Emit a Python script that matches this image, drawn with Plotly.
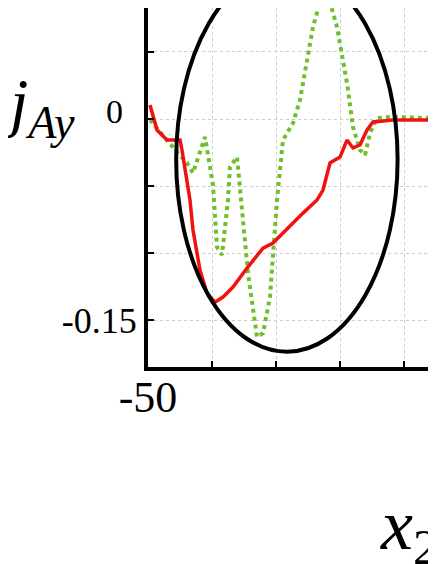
import plotly.graph_objects as go

# red solid curve
x_red = [-49.69, -48.59, -47.03, -45.0, -44.69, -43.44, -42.97, -41.88, -40.78, -39.53,
         -38.28, -36.72, -34.53, -32.03, -30.47, -28.91, -27.34, -25.78, -23.59, -22.66,
         -21.56, -20.0, -18.91, -17.97, -16.88, -15.78, -14.84, -11.72, -5.0]
y_red = [0.0104, -0.0082, -0.0157, -0.0157, -0.0231, -0.0604, -0.0828, -0.1127, -0.1299, -0.1366,
         -0.1328, -0.1254, -0.1112, -0.0963, -0.0925, -0.0851, -0.0769, -0.0702, -0.0604, -0.0530,
         -0.0328, -0.0284, -0.0157, -0.0216, -0.0194, -0.0082, -0.0022, -0.0007, -0.0007]

# green dotted curve
x_green = [-49.69, -48.13, -46.56, -45.47, -43.91, -42.97, -41.09, -39.84, -39.22, -38.44,
           -37.5, -37.19, -36.09, -35.63, -34.38, -32.97, -32.03, -30.94, -29.84, -28.91,
           -27.34, -26.25, -25.16, -24.22, -22.34, -20.47, -18.91, -17.97, -16.88, -16.09,
           -15.31, -14.22, -12.19, -5.0]
y_green = [-0.0007, -0.0097, -0.0194, -0.0246, -0.0328, -0.0403, -0.0134, -0.0493, -0.0955, -0.1015,
           -0.0604, -0.0358, -0.0284, -0.0507, -0.1149, -0.1627, -0.1597, -0.1328, -0.0604, -0.0157,
           -0.0030, 0.0142, 0.0440, 0.0687, 0.1000, 0.0687, 0.0269, -0.0060, -0.0231, -0.0269,
           -0.0104, 0.0007, 0.0015, 0.0007]

# ticks
x_ticks = [-50, -40, -30, -20, -10]
x_labels = ['-50', '', '', '', '']
y_ticks = [0.05, 0, -0.05, -0.1, -0.15]
y_labels = ['', '', '', '', '-0.15']

# ellipse box (data units)
ell_x = [-45.6, -11.0]
ell_y = [-0.1736, 0.113]

fig = go.Figure()

fig.add_trace(go.Scatter(x=x_green, y=y_green, mode='lines',
                         line=dict(color='#6fbf2a', width=4, dash='dot')))
fig.add_trace(go.Scatter(x=x_red, y=y_red, mode='lines',
                         line=dict(color='#f21010', width=3.5)))

fig.add_shape(type='circle', xref='x', yref='y',
              x0=ell_x[0], x1=ell_x[1], y0=ell_y[0], y1=ell_y[1],
              line=dict(color='black', width=4))

serif = 'Liberation Serif'

# page body has an 8px margin, so the figure is a bit smaller and shifted
fig.update_layout(
    width=428, height=556,
    margin=dict(l=140, r=0, t=0, b=197),
    paper_bgcolor='white', plot_bgcolor='white',
    showlegend=False,
    xaxis=dict(range=[-50, -5], tickvals=x_ticks, ticktext=x_labels,
               ticks='inside', ticklen=6, tickwidth=1.5, tickcolor='black',
               showline=True, linecolor='black', linewidth=4,
               showgrid=True, gridcolor='#cccccc', griddash='dot', gridwidth=1,
               zeroline=False, ticklabelstandoff=-12,
               tickfont=dict(family=serif, size=44, color='black')),
    yaxis=dict(range=[-0.185, 0.0828], tickvals=y_ticks, ticktext=y_labels,
               ticks='inside', ticklen=6, tickwidth=1.5, tickcolor='black',
               showline=True, linecolor='black', linewidth=4,
               showgrid=True, gridcolor='#cccccc', griddash='dot', gridwidth=1,
               zeroline=False, tickfont=dict(family=serif, size=36, color='black')),
)

# y label and the "0" tick label
fig.add_annotation(x=-0.515, y=0.725, xref='paper', yref='paper', xanchor='left', yanchor='middle',
                   text='<i>j</i><sub><i>Ay</i></sub>', showarrow=False,
                   font=dict(family=serif, size=66, color='black'))
fig.add_annotation(x=-0.08, y=0.0, xref='paper', yref='y', xanchor='right', yanchor='middle',
                   text='0', showarrow=False, yshift=8,
                   font=dict(family=serif, size=34, color='black'))
# x label
fig.add_annotation(x=(378 - 148) / 288, y=(367 - 530) / 359, xref='paper', yref='paper',
                   xanchor='left', yanchor='middle',
                   text='<i>x</i><sub>2</sub>', showarrow=False,
                   font=dict(family=serif, size=72, color='black'))

fig.write_html('out.html')
